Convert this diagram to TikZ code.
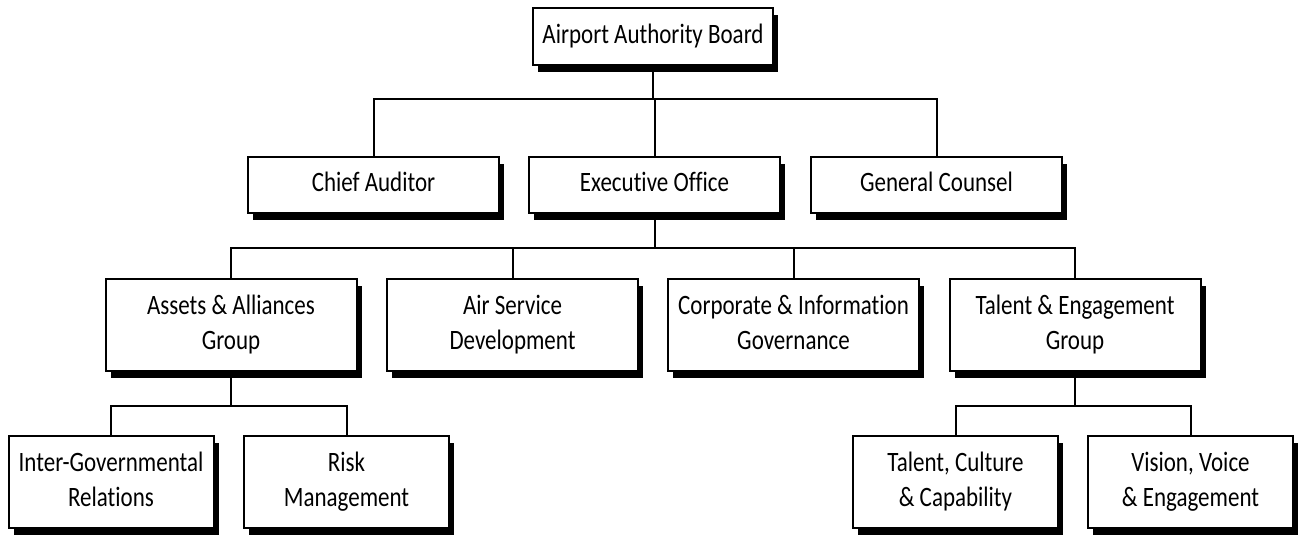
\documentclass[tikz,border=0pt]{standalone}
\usepackage{fontspec}
\setmainfont{Carlito}[Ligatures={NoCommon}]
\usepackage{graphicx}
\usetikzlibrary{shadows}
\newcommand{\lbl}[1]{\scalebox{1}[1.22]{\begin{tabular}{@{}c@{}}#1\end{tabular}}}
\begin{document}
\begin{tikzpicture}[x=0.75pt,y=-0.75pt,
  box/.style={draw, line width=1.5pt, fill=white, inner sep=0pt, align=center,
    font=\fontsize{17.25}{21.5}\selectfont,
    drop shadow={fill=black, opacity=1, shadow xshift=3.75pt, shadow yshift=-5.25pt}},
  lvltop/.style={box, minimum width=180pt, minimum height=42.75pt},
  lvltwo/.style={box, minimum width=188.25pt, minimum height=42pt},
  lvlthree/.style={box, minimum width=188.25pt, minimum height=69pt},
  lvlfour/.style={box, minimum width=153.75pt, minimum height=69pt},
  conn/.style={draw, line width=1.5pt}]
\useasboundingbox (0,0) rectangle (1299,535);

\node[lvltop] (board) at (653,36.5) {\lbl{Airport Authority Board}};

\node[lvltwo] (ca) at (373.5,185) {\lbl{Chief Auditor}};
\node[lvltwo] (ex) at (654.5,185) {\lbl{Executive Office}};
\node[lvltwo] (gc) at (936.5,185) {\lbl{General Counsel}};

\node[lvlthree] (aa) at (231,325) {\lbl{Assets \& Alliances\\Group}};
\node[lvlthree] (as) at (512.5,325) {\lbl{Air Service\\Development}};
\node[lvlthree] (ci) at (793.5,325) {\lbl{Corporate \& Information\\Governance}};
\node[lvlthree] (te) at (1075,325) {\lbl{Talent \& Engagement\\Group}};

\node[lvlfour] (ig) at (111,482) {\lbl{Inter-Governmental\\Relations}};
\node[lvlfour] (rm) at (346.5,482) {\lbl{Risk\\Management}};
\node[lvlfour] (tc) at (955.5,482) {\lbl{Talent, Culture\\\& Capability}};
\node[lvlfour] (vv) at (1190.5,482) {\lbl{Vision, Voice\\\& Engagement}};

\coordinate (busa) at (653,99);
\coordinate (busb) at (654.5,248);
\coordinate (busc) at (231,406);
\coordinate (busd) at (1075,406);

\path[conn] (board.south) -- (busa);
\path[conn] (ca.north) |- (busa) -| (gc.north);
\path[conn] (busa) -- (busa -| ex.north) -- (ex.north);

\path[conn] (ex.south) -- (busb);
\path[conn] (aa.north) |- (busb) -| (te.north);
\path[conn] (as.north) -- (as.north |- busb);
\path[conn] (ci.north) -- (ci.north |- busb);

\path[conn] (aa.south) -- (busc);
\path[conn] (ig.north) |- (busc) -| (rm.north);

\path[conn] (te.south) -- (busd);
\path[conn] (tc.north) |- (busd) -| (vv.north);
\end{tikzpicture}
\end{document}
